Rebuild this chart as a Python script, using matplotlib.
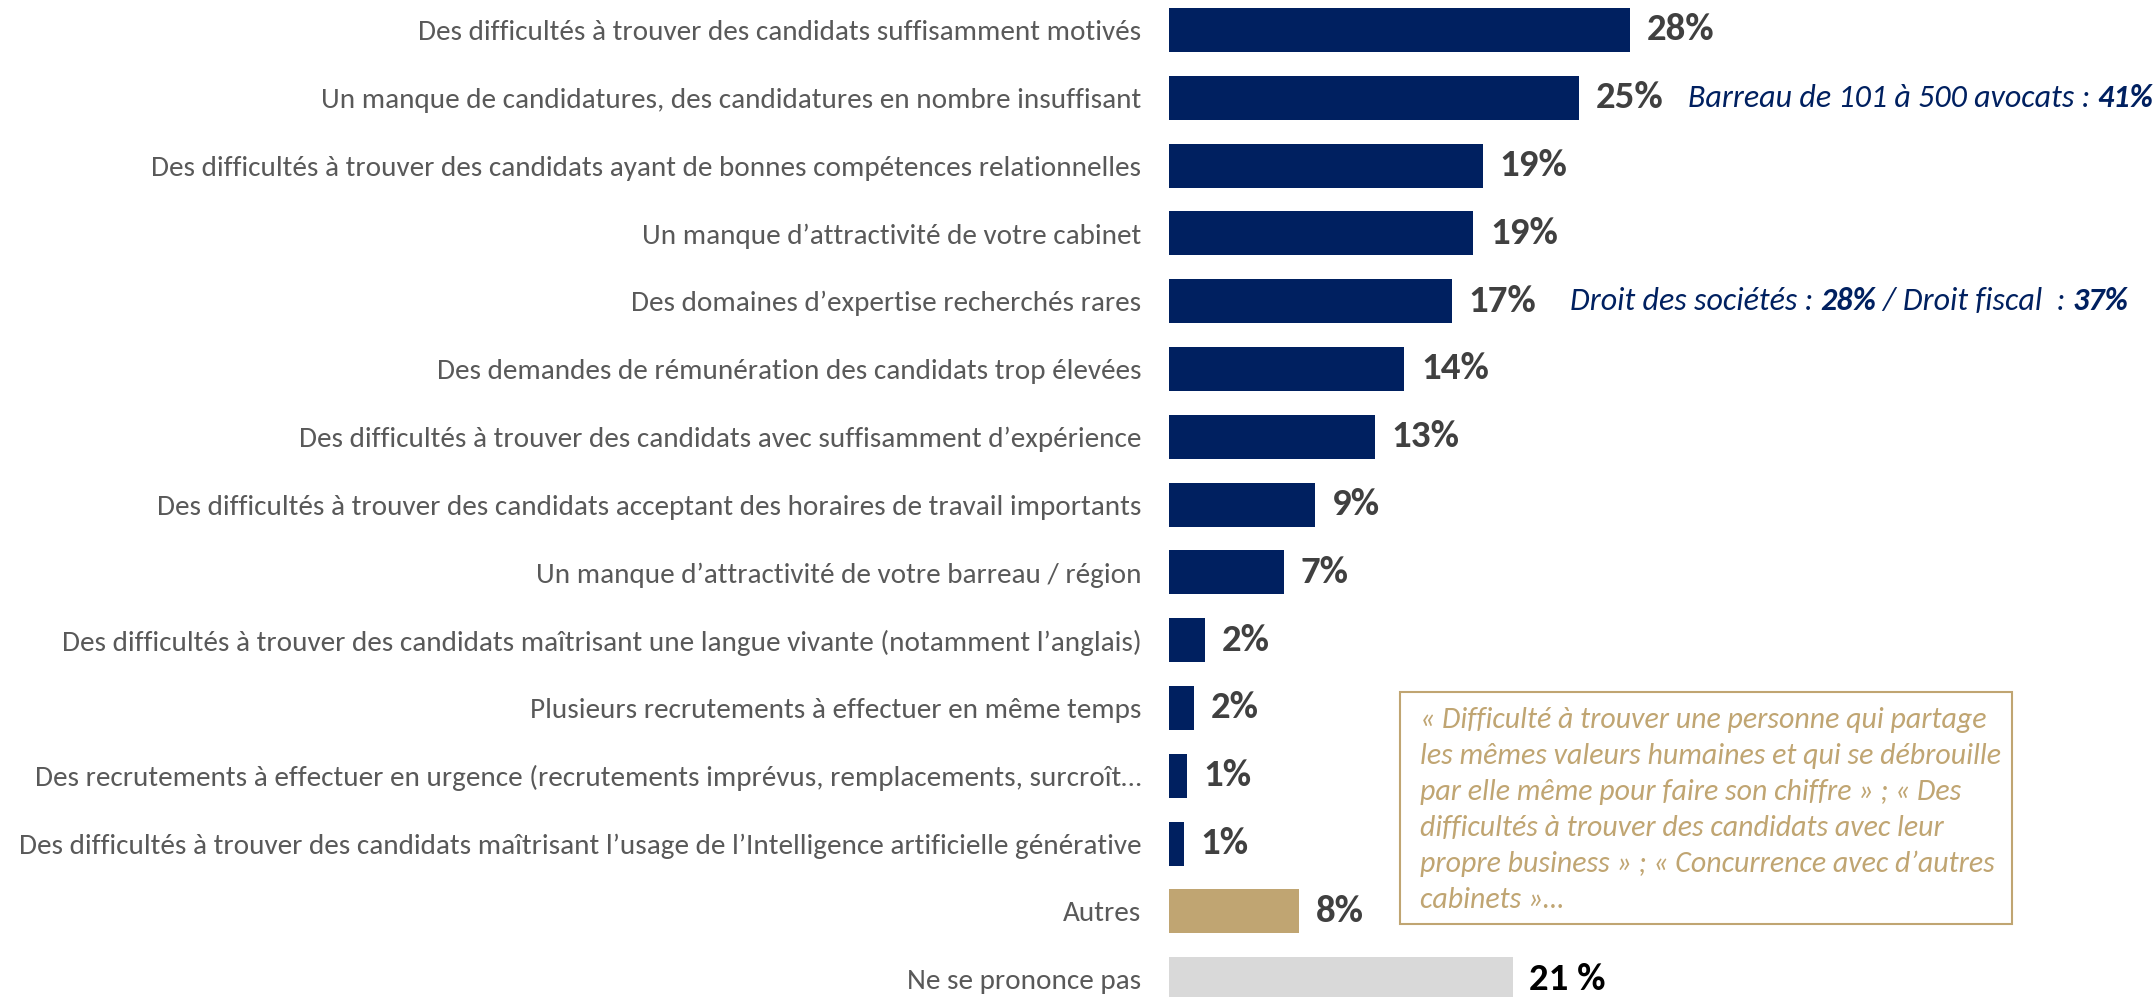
import matplotlib
matplotlib.use("Agg")
import matplotlib.pyplot as plt

plt.rcParams['font.family'] = ['Carlito', 'DejaVu Sans']

# data (bar lengths, labels as printed)
categories = [
    "Des difficultés à trouver des candidats suffisamment motivés",
    "Un manque de candidatures, des candidatures en nombre insuffisant",
    "Des difficultés à trouver des candidats ayant de bonnes compétences relationnelles",
    "Un manque d’attractivité de votre cabinet",
    "Des domaines d’expertise recherchés rares",
    "Des demandes de rémunération des candidats trop élevées",
    "Des difficultés à trouver des candidats avec suffisamment d’expérience",
    "Des difficultés à trouver des candidats acceptant des horaires de travail importants",
    "Un manque d’attractivité de votre barreau / région",
    "Des difficultés à trouver des candidats maîtrisant une langue vivante (notamment l’anglais)",
    "Plusieurs recrutements à effectuer en même temps",
    "Des recrutements à effectuer en urgence (recrutements imprévus, remplacements, surcroît…",
    "Des difficultés à trouver des candidats maîtrisant l’usage de l’Intelligence artificielle générative",
    "Autres",
    "Ne se prononce pas",
]
values = [28.0, 24.9, 19.1, 18.5, 17.2, 14.3, 12.5, 8.9, 7.0, 2.2, 1.5, 1.1, 0.9, 7.9, 20.9]
value_labels = ["28%", "25%", "19%", "19%", "17%", "14%", "13%", "9%", "7%",
                "2%", "2%", "1%", "1%", "8%", "21 %"]

note_rows = [1, 4]
notes = [
    [("Barreau de 101 à 500 avocats : ", "normal"), ("41%", "bold")],
    [("Droit des sociétés : ", "normal"), ("28%", "bold"), (" / Droit fiscal  : ", "normal"), ("37%", "bold")],
]

quote_lines = [
    "« Difficulté à trouver une personne qui partage",
    "les mêmes valeurs humaines et qui se débrouille",
    "par elle même pour faire son chiffre » ; « Des",
    "difficultés à trouver des candidats avec leur",
    "propre business » ; « Concurrence avec d’autres",
    "cabinets »…",
]

NAVY = "#002060"
GOLD = "#C0A572"
GREY = "#D9D9D9"

W, H = 2156, 997
fig = plt.figure(figsize=(W / 100, H / 100), dpi=100)
ax = fig.add_axes([1169 / W, 0, 1 - 1169 / W, 1])

colors = [NAVY] * 13 + [GOLD, GREY]
y = list(range(len(values)))
ax.barh(y, values, height=0.65, color=colors)

ax.set_xlim(0, (W - 1169) / 16.45)
ax.set_ylim((H - 30) / 67.8, -30 / 67.8)

ax.set_yticks(y)
ax.set_yticklabels(categories, fontsize=21, color="#595959")
ax.tick_params(axis="y", length=0, pad=20)
ax.set_xticks([])
for s in ax.spines.values():
    s.set_visible(False)

for i, (v, lab) in enumerate(zip(values, value_labels)):
    c = "#000000" if i == len(values) - 1 else "#404040"
    ax.annotate(lab, (v, i), xytext=(12, 0), textcoords="offset points",
                ha="left", va="center", fontsize=28, fontweight="bold", color=c)

fig.canvas.draw()
renderer = fig.canvas.get_renderer()

note_x = [1688, 1570]
for row, parts, x0 in zip(note_rows, notes, note_x):
    xp = x0
    yp = ax.transData.transform((0, row))[1]
    for txt, wt in parts:
        t = fig.text(xp / W, yp / H, txt, fontsize=23, style="italic", fontweight=wt,
                     color=NAVY, ha="left", va="center")
        bb = t.get_window_extent(renderer)
        xp = bb.x1

# quote box
bx0, bx1, by0, by1 = 1400, 2012, 692, 924
fig.patches.append(plt.Rectangle((bx0 / W, 1 - by1 / H), (bx1 - bx0) / W, (by1 - by0) / H,
                                 transform=fig.transFigure, fill=False,
                                 edgecolor=GOLD, linewidth=1.5))
for k, line in enumerate(quote_lines):
    fig.text(1420 / W, 1 - (720 + 36 * k) / H, line, fontsize=21.5, style="italic",
             color=GOLD, ha="left", va="center")

fig.savefig("out.png")
